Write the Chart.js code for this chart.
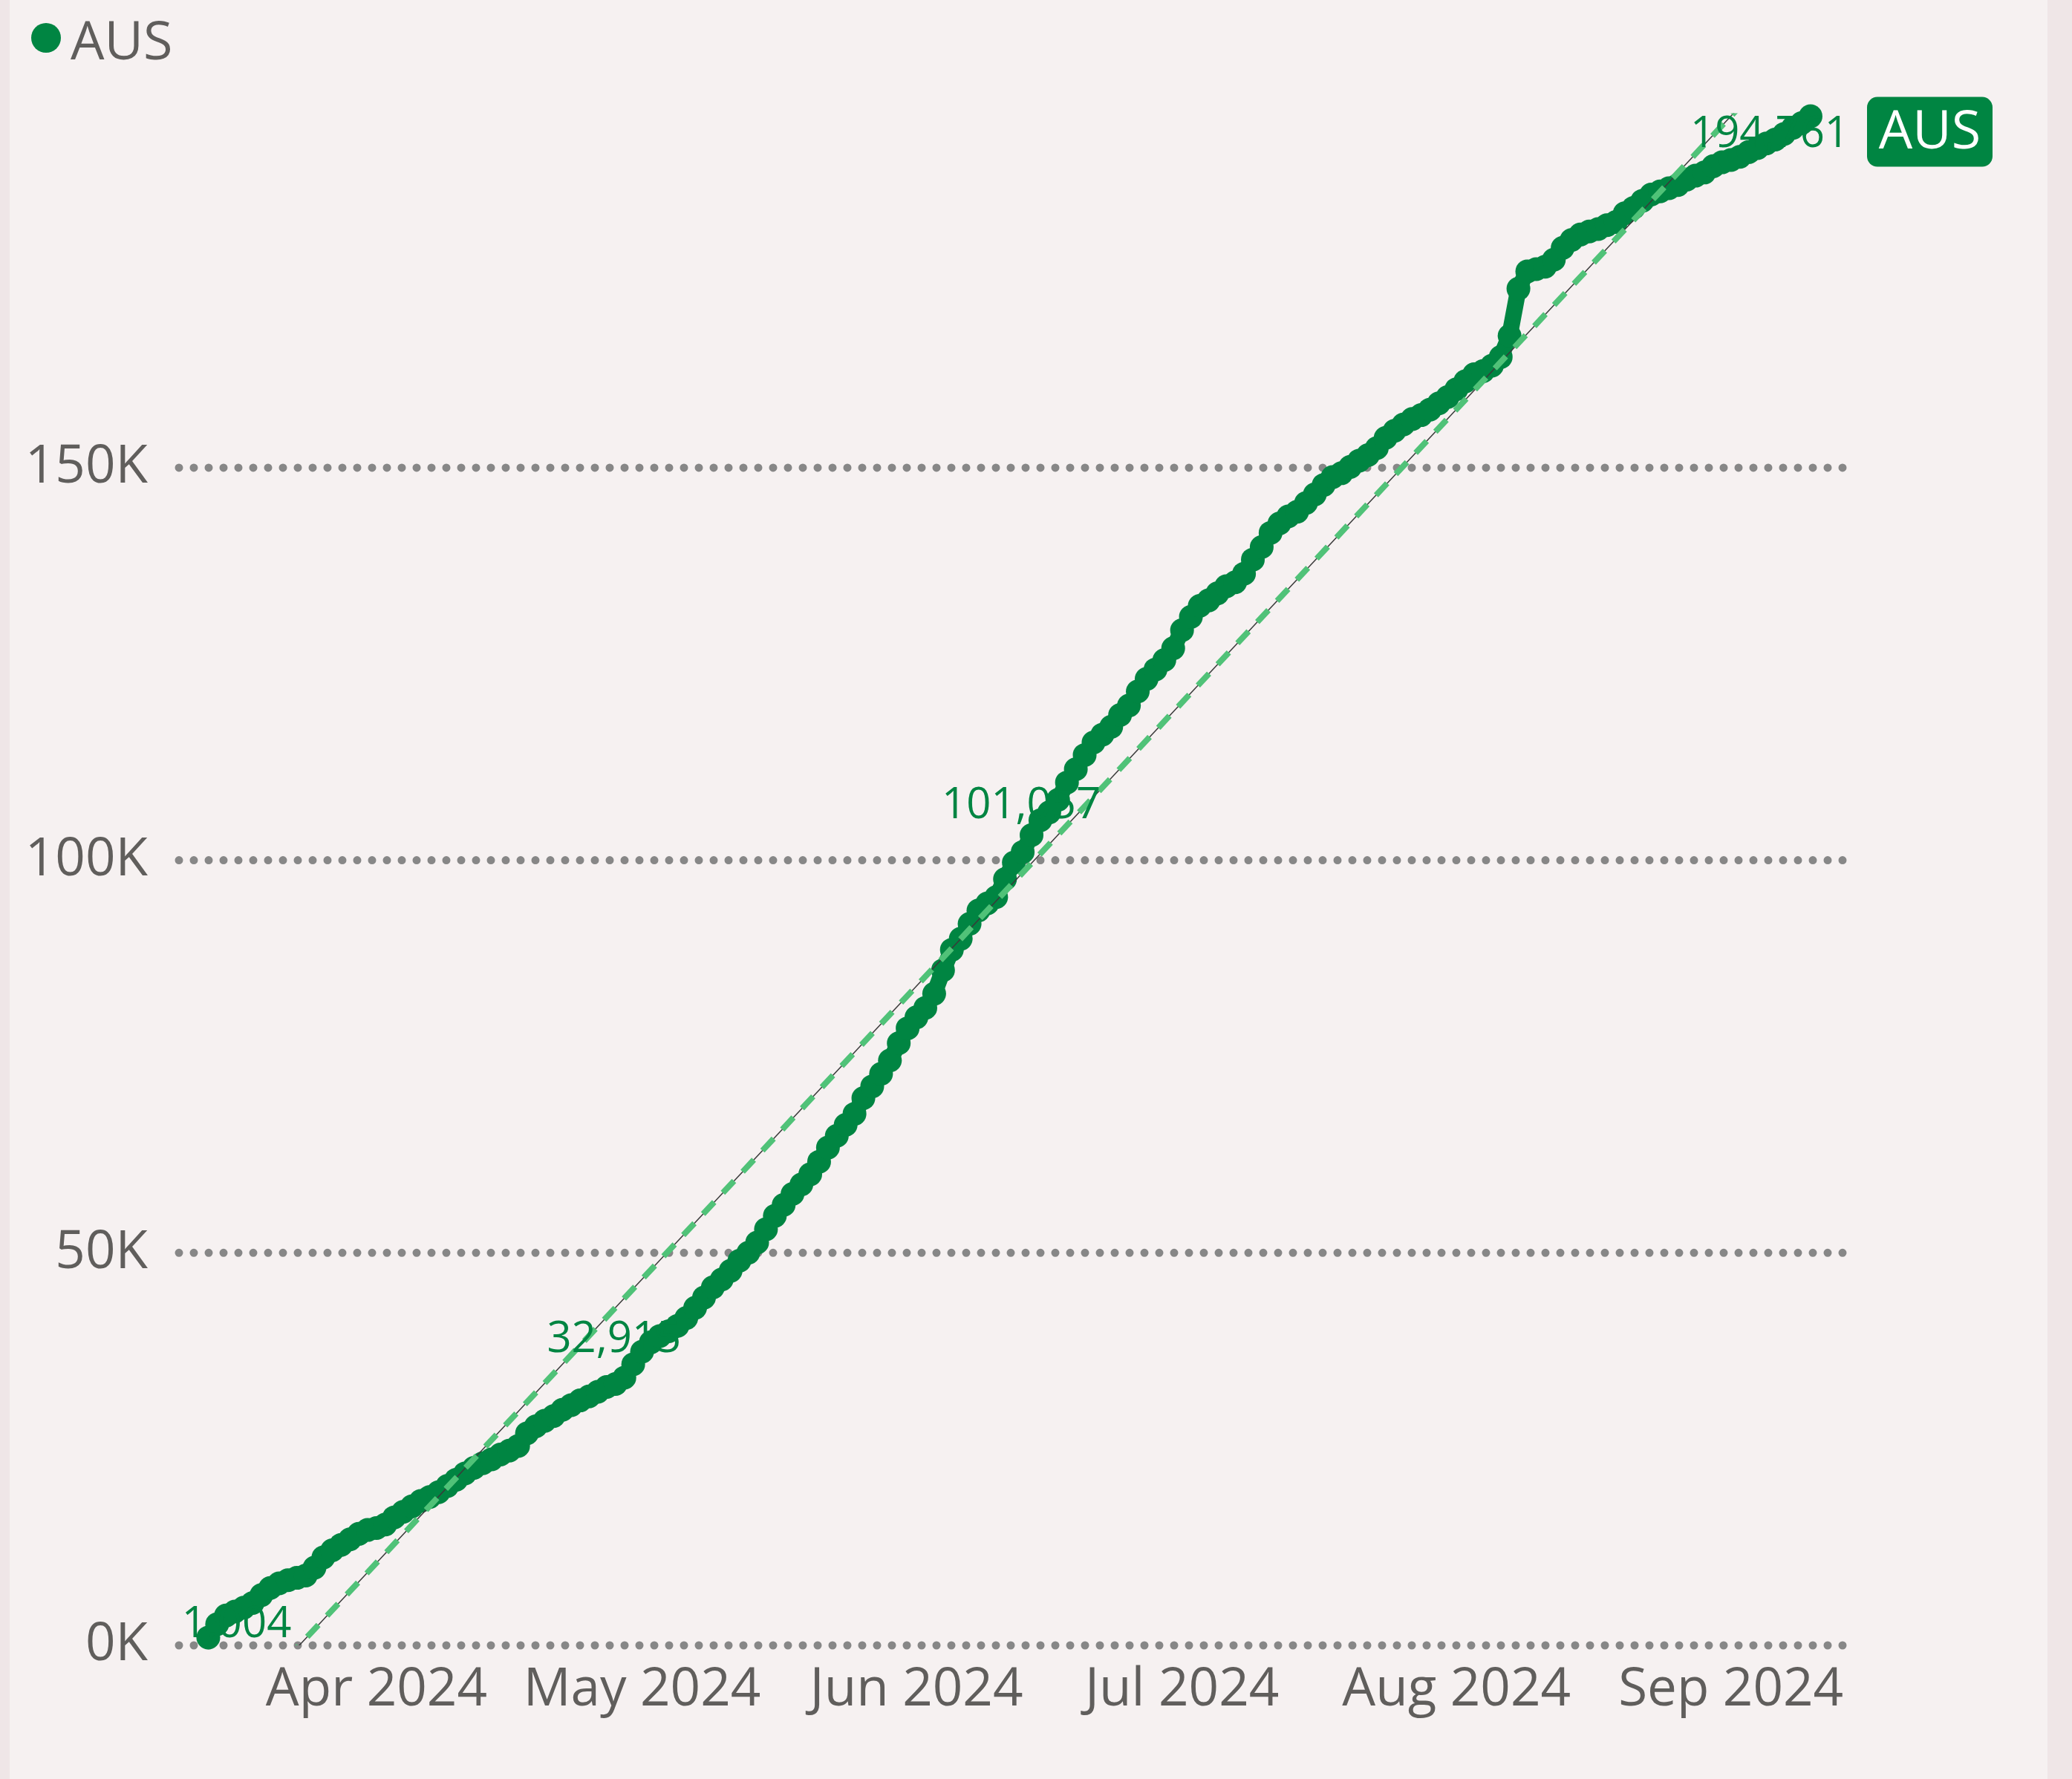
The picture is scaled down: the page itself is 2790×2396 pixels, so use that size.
<!DOCTYPE html>
<html>
<head>
<meta charset="utf-8">
<title>AUS</title>
<script src="https://cdn.jsdelivr.net/npm/chart.js@4.4.1/dist/chart.umd.min.js"></script>
<style>
  html, body { margin: 0; padding: 0; }
  body { width: 2790px; height: 2396px; background: #f6f1f1; position: relative; overflow: hidden; }
  .edge { position: absolute; top: 0; bottom: 0; background: #efe6e7; }
  #edgeL { left: 0; width: 13px; }
  #edgeR { right: 0; width: 33px; }
  #box { position: absolute; left: 0; top: 0; width: 2790px; height: 2396px; }
</style>
</head>
<body>
<div class="edge" id="edgeL"></div>
<div class="edge" id="edgeR"></div>
<div id="box"><canvas id="myChart" width="2790" height="2396"></canvas></div>
<script>
// daily cumulative values, first day 13 Mar 2024
const startDate = "2024-03-13";
const seriesName = "AUS";
const ausValues = [
  1004, 2700, 3800, 4300, 4800, 5400, 6400, 7300, 7900, 8300,
  8600, 8900, 9900, 11200, 12100, 12800, 13500, 14200, 14700, 14950,
  15400, 16300, 17000, 17700, 18400, 18900, 19500, 20300, 21100, 21900,
  22600, 23200, 23700, 24300, 24800, 25400, 27000, 27900, 28600, 29200,
  30000, 30600, 31200, 31700, 32300, 32915, 33300, 34100, 35800, 37400,
  38600, 39400, 40000, 40700, 41700, 43000, 44300, 45600, 46600, 47700,
  49000, 50000, 51300, 53000, 54700, 56100, 57500, 58700, 60000, 61600,
  63400, 64900, 66300, 67700, 69700, 71200, 72800, 74500, 76700, 78600,
  80000, 81200, 83000, 86000, 88600, 90000, 91900, 93600, 94500, 95300,
  97600, 99700, 101057, 103200, 105100, 106100, 107700, 109900, 111600, 113400,
  115000, 116000, 117000, 118500, 119700, 121500, 123100, 124300, 125500, 127000,
  129300, 131000, 132400, 133100, 134000, 134900, 135400, 136500, 138300, 139900,
  141700, 142900, 143800, 144400, 145500, 146600, 147800, 148800, 149300, 150100,
  150900, 151600, 152500, 153800, 154700, 155500, 156200, 156700, 157400, 158200,
  159000, 160000, 161000, 161900, 162300, 163000, 164100, 166800, 172800, 175000,
  175300, 175600, 176500, 178000, 179000, 179700, 180100, 180400, 180900, 181300,
  182400, 183100, 184000, 184800, 185200, 185600, 186000, 186700, 187200, 187600,
  188400, 188900, 189200, 189600, 190200, 190700, 191300, 191800, 192500, 193300,
  193900, 194761
];

// trend line end values (first and last day)
const trendDays = [0, 181];
const trendValues = [-12380, 205620];

// points that carry a data label
const labelDays = [0, 45, 92, 181];

const yTickValues = [0, 50000, 100000, 150000];
const monthStarts = ["2024-04-01", "2024-05-01", "2024-06-01", "2024-07-01", "2024-08-01", "2024-09-01"];
const monthLabels = ["Apr 2024", "May 2024", "Jun 2024", "Jul 2024", "Aug 2024", "Sep 2024"];

const green = "#008542";
const trendGreen = "#50c278";
const textGrey = "#605e5c";
const font = "'Segoe UI', 'Open Sans', sans-serif";

const dayOf = (d) => Math.round((Date.parse(d) - Date.parse(startDate)) / 86400000);
const monthDays = monthStarts.map(dayOf);

// dotted grid lines, data labels, end badge and legend
const decor = {
  id: "decor",
  beforeDatasetsDraw(chart) {
    const { ctx, chartArea, scales } = chart;
    ctx.save();
    ctx.strokeStyle = "#878787";
    ctx.lineWidth = 11;
    ctx.lineCap = "round";
    ctx.setLineDash([0, 20]);
    scales.y.ticks.forEach((t) => {
      const py = scales.y.getPixelForValue(t.value);
      ctx.beginPath();
      ctx.moveTo(chartArea.left + 5, py);
      ctx.lineTo(chartArea.right, py);
      ctx.stroke();
    });
    ctx.restore();
  },
  afterDatasetsDraw(chart) {
    const { ctx, chartArea, scales } = chart;
    const offsets = { 0: [38, -17], 45: [10, -63], 92: [-2, -62], 181: [-55, 25] };
    ctx.save();
    ctx.font = "58px " + font;
    ctx.fillStyle = green;
    ctx.textAlign = "center";
    ctx.textBaseline = "middle";
    labelDays.forEach((d) => {
      const px = scales.x.getPixelForValue(d);
      const py = scales.y.getPixelForValue(ausValues[d]);
      const off = offsets[d] || [0, -60];
      ctx.fillText(ausValues[d].toLocaleString("en-US"), px + off[0], py + off[1]);
    });

    // series badge right of the last point
    const last = ausValues.length - 1;
    const ly = scales.y.getPixelForValue(ausValues[last]);
    const bx = chartArea.right + 28;
    const by = ly + 21 - 47;
    ctx.beginPath();
    ctx.roundRect(bx, by, 169, 94, 14);
    ctx.fillStyle = green;
    ctx.fill();
    ctx.font = "72px " + font;
    ctx.fillStyle = "#ffffff";
    ctx.fillText(seriesName, bx + 84.5, by + 49);

    // legend
    ctx.beginPath();
    ctx.arc(62, 51, 20, 0, Math.PI * 2);
    ctx.fillStyle = green;
    ctx.fill();
    ctx.font = "72px " + font;
    ctx.fillStyle = textGrey;
    ctx.textAlign = "left";
    ctx.textBaseline = "alphabetic";
    ctx.fillText(seriesName, 95, 80);
    ctx.restore();
  },
};

const ctx = document.getElementById("myChart").getContext("2d");
const myChart = new Chart(ctx, {
  type: "line",
  data: {
    datasets: [
      {
        label: "trend",
        data: trendDays.map((d, k) => ({ x: d, y: trendValues[k] })),
        borderColor: trendGreen,
        borderWidth: 8,
        borderDash: [22, 17],
        pointRadius: 0,
        clip: 0,
        order: 0,
      },
      {
        label: "trend line",
        data: trendDays.map((d, k) => ({ x: d, y: trendValues[k] })),
        borderColor: "#3a3a3a",
        borderWidth: 1.5,
        pointRadius: 0,
        clip: 0,
        order: 1,
      },
      {
        label: seriesName,
        data: ausValues.map((v, i) => ({ x: i, y: v })),
        borderColor: green,
        backgroundColor: green,
        borderWidth: 22,
        borderJoinStyle: "round",
        borderCapStyle: "round",
        pointRadius: 16,
        pointBorderWidth: 0,
        pointBackgroundColor: green,
        tension: 0,
        clip: false,
        order: 2,
      },
    ],
  },
  options: {
    responsive: false,
    animation: false,
    events: [],
    layout: { padding: { top: 152.5, right: 304, bottom: 0, left: 0 } },
    plugins: { legend: { display: false }, tooltip: { enabled: false } },
    scales: {
      x: {
        type: "linear",
        min: -3.73,
        max: 185.03,
        grid: { display: false, drawTicks: false },
        border: { display: false },
        afterBuildTicks: (scale) => {
          scale.ticks = monthDays.map((d) => ({ value: d }));
        },
        afterFit: (scale) => {
          scale.height = 180;
        },
        ticks: {
          autoSkip: false,
          maxRotation: 0,
          minRotation: 0,
          padding: 18,
          color: textGrey,
          font: { family: font, size: 71 },
          callback: (v, i) => monthLabels[i],
        },
      },
      y: {
        min: 0,
        max: 195150,
        grid: { display: false, drawTicks: false },
        border: { display: false },
        afterBuildTicks: (scale) => {
          scale.ticks = yTickValues.map((v) => ({ value: v }));
        },
        afterFit: (scale) => {
          scale.width = 236;
        },
        ticks: {
          padding: 37,
          color: textGrey,
          font: { family: font, size: 71 },
          callback: (v) => v / 1000 + "K",
        },
      },
    },
  },
  plugins: [decor],
});
</script>
</body>
</html>
